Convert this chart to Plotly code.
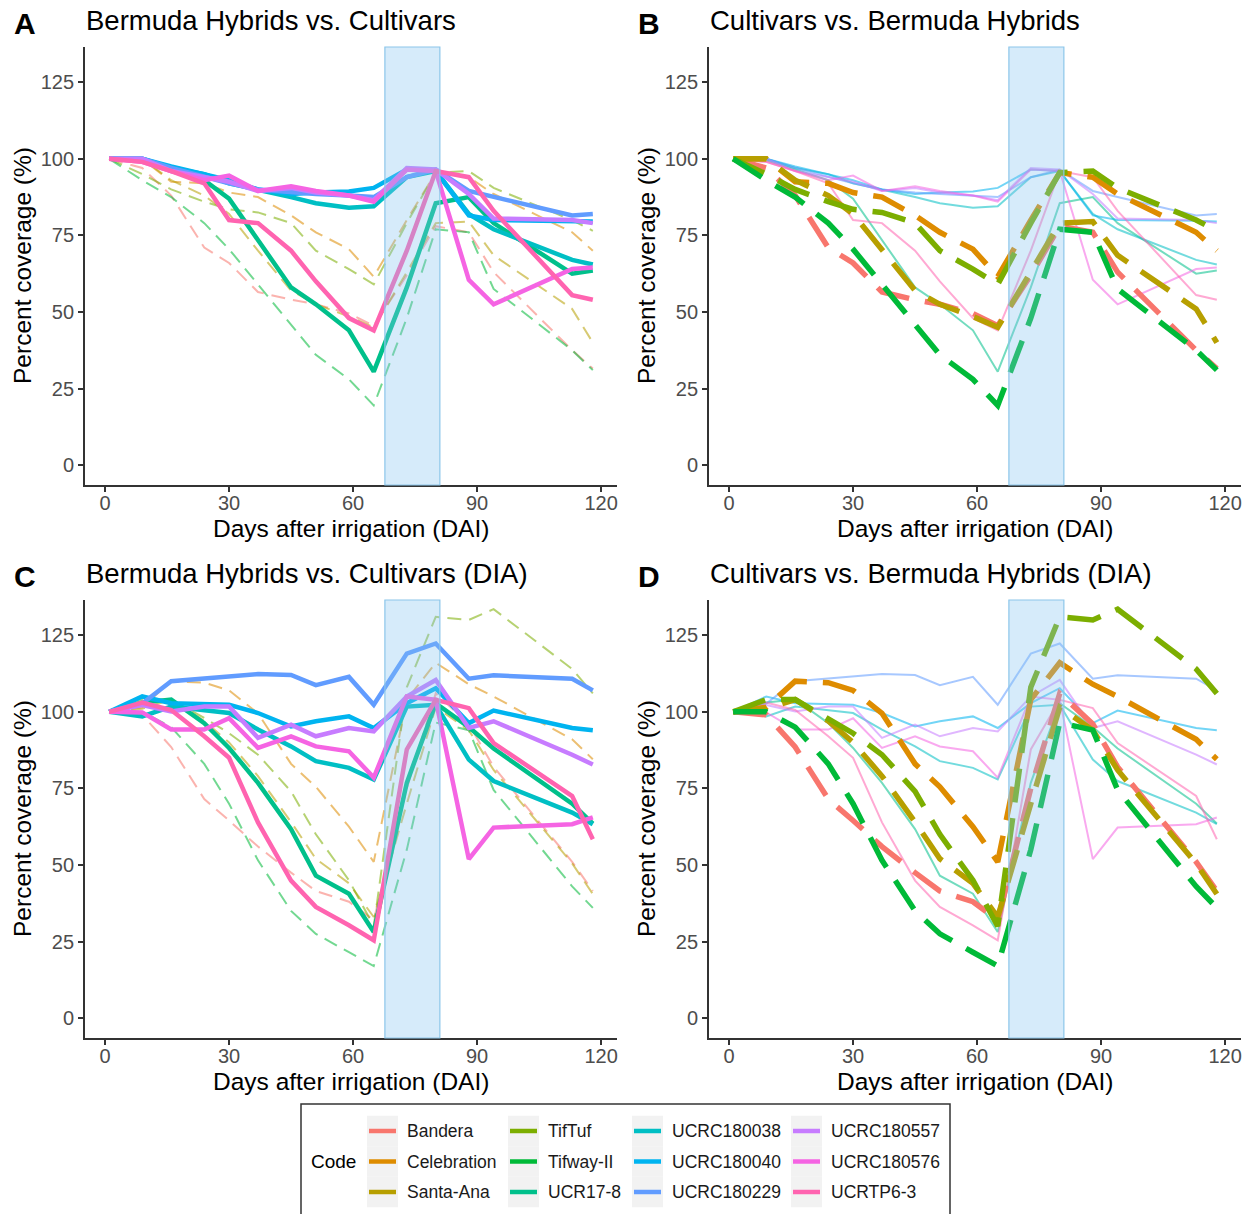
import plotly.graph_objects as go

# ---------------- data ----------------
days = [1, 9, 16, 24, 30, 37, 45, 51, 59, 65, 73, 80, 88, 94, 113, 118]

codes = ["Bandera", "Celebration", "Santa-Ana", "TifTuf", "Tifway-II", "UCR17-8",
         "UCRC180038", "UCRC180040", "UCRC180229", "UCRC180557", "UCRC180576", "UCRTP6-3"]
cultivars = ["Bandera", "Celebration", "Santa-Ana", "TifTuf", "Tifway-II"]
hybrids = ["UCR17-8", "UCRC180038", "UCRC180040", "UCRC180229", "UCRC180557", "UCRC180576", "UCRTP6-3"]

# Percent coverage (panels A, B)
cov_bandera     = [100, 97, 88, 71, 66, 56.5, 54, 52.5, 49.5, 45.5, 62, 78, 76, 63, 37.5, 31.5]
cov_celebration = [100, 100, 92.5, 92, 89, 87.5, 81.5, 76, 70.5, 61.5, 80, 95.5, 94, 88.5, 76, 70]
cov_santaana    = [100, 100, 93, 88, 82, 70, 57, 52.5, 48.5, 45, 63, 79, 79.5, 68.5, 51, 40]
cov_tiftuf      = [100, 95, 90, 86, 83.5, 82.5, 79, 70, 64, 59, 79, 95.5, 96, 90.5, 80, 76.5]
cov_tifway      = [100, 93, 87.5, 79, 70.5, 59, 45.5, 36, 28, 19.5, 48, 77, 76, 57.5, 37.5, 31]
cov_ucr178      = [100, 99.5, 96.5, 93, 87, 73.5, 58, 52.5, 44, 30.5, 58, 85.5, 87.5, 79, 62.5, 63.5]
cov_ucrc038     = [100, 100, 97, 95, 92, 90, 87.5, 85.5, 84, 84.5, 94, 96, 82, 77, 67, 65.5]
cov_ucrc040     = [100, 100, 97.5, 95, 93, 90, 88.5, 89, 89.3, 90.5, 96.5, 96, 81.5, 80, 79.8, 79.5]
cov_ucrc229     = [100, 100, 97, 94, 92, 90, 89, 88.5, 88, 87.5, 94, 96.5, 89.5, 87.5, 81.5, 82]
cov_ucrc557     = [100, 100, 96, 94, 92.5, 89.5, 90.5, 89, 88, 86.5, 97, 96.5, 88.5, 80.5, 80, 79]
cov_ucrc576     = [100, 99, 96, 93, 94.5, 89.5, 91, 89.5, 88, 86, 96.5, 96, 60.5, 52.5, 64, 64.5]
cov_ucrtp63     = [100, 99, 96, 92, 80, 79, 70, 60, 48, 44, 70, 96, 94, 83, 55.5, 54]

# Percent coverage, DIA (panels C, D)
dia_bandera     = [100, 99, 88.5, 71.5, 64.5, 56, 47.5, 41.5, 38, 32, 75, 106, 96, 82, 51, 41.5]
dia_celebration = [100, 101.5, 110, 109.5, 107, 99.5, 83, 75.5, 62.5, 51, 104, 116, 109, 105, 91, 84.5]
dia_santaana    = [100, 101, 104, 97, 90, 79, 64, 52, 44, 33, 70, 101.5, 94, 81, 50.5, 40.5]
dia_tiftuf      = [100, 104, 104, 98, 93, 86, 74, 60, 45, 30, 108, 131, 130, 133.5, 114, 106]
dia_tifway      = [100, 100, 95, 83, 70, 51.5, 35, 27.5, 21.5, 17, 55, 96.5, 94, 74.5, 43, 36]
dia_ucr178      = [100, 103, 104, 96.3, 88.2, 76.8, 61.7, 46.5, 40.6, 28.1, 76.8, 102.8, 95, 88, 70, 63.5]
dia_ucrc038     = [100, 98.5, 101.7, 100.5, 99.6, 94.2, 88.7, 83.9, 81.7, 77.9, 101.7, 102.3, 84.4, 77.4, 67.1, 63.3]
dia_ucrc040     = [100, 105, 102.8, 102.5, 102.3, 99.6, 95.2, 96.9, 98.5, 94.7, 102.8, 107.7, 96.3, 100.4, 94.7, 94]
dia_ucrc229     = [100, 102.7, 110, 110.8, 111.5, 112.3, 112, 108.7, 111.4, 102.3, 119, 122.3, 110.8, 111.9, 110.8, 107]
dia_ucrc557     = [100, 102.2, 100.1, 101.7, 101.7, 91.5, 95.8, 92, 94.7, 93.6, 105, 110.4, 94.7, 96.9, 86, 82.8]
dia_ucrc576     = [100, 99.8, 94.2, 94.2, 97.9, 88.2, 92, 88.7, 87.1, 78.5, 105, 103.9, 51.9, 62.2, 63.3, 65.5]
dia_ucrtp63     = [100, 103, 100.6, 92, 85, 63.9, 44.9, 36.3, 30.3, 25.4, 87.7, 103.9, 101.2, 89.8, 72.5, 58.4]

coverage = dict(zip(codes, [cov_bandera, cov_celebration, cov_santaana, cov_tiftuf, cov_tifway,
                            cov_ucr178, cov_ucrc038, cov_ucrc040, cov_ucrc229, cov_ucrc557,
                            cov_ucrc576, cov_ucrtp63]))
coverage_dia = dict(zip(codes, [dia_bandera, dia_celebration, dia_santaana, dia_tiftuf, dia_tifway,
                                dia_ucr178, dia_ucrc038, dia_ucrc040, dia_ucrc229, dia_ucrc557,
                                dia_ucrc576, dia_ucrtp63]))

colors = ["#F8766D", "#DE8C00", "#B79F00", "#7CAE00", "#00BA38", "#00C08B",
          "#00BFC4", "#00B4F0", "#619CFF", "#C77CFF", "#F564E3", "#FF64B0"]
color_of = dict(zip(codes, colors))

x_ticks = [0, 30, 60, 90, 120]
y_ticks = [0, 25, 50, 75, 100, 125]
irrigation_window = (67.7, 81.0)

titles = ["Bermuda Hybrids vs. Cultivars", "Cultivars vs. Bermuda Hybrids",
          "Bermuda Hybrids vs. Cultivars (DIA)", "Cultivars vs. Bermuda Hybrids (DIA)"]
letters = ["A", "B", "C", "D"]
x_title = "Days after irrigation (DAI)"
y_title = "Percent coverage (%)"

# ---------------- layout helpers ----------------
W, H = 1251, 1214
FONT = "Liberation Sans, Arial, Helvetica, sans-serif"


def fx(px):
    return px / W


def fy(py):
    return 1 - py / H


panels = [
    dict(data=coverage, focus="hybrids", xd=(85, 617), yd=(47, 485), tx=84, lx=25, ytx=22),
    dict(data=coverage, focus="cultivars", xd=(709, 1241), yd=(47, 485), tx=708, lx=649, ytx=646),
    dict(data=coverage_dia, focus="hybrids", xd=(85, 617), yd=(600, 1038), tx=84, lx=25, ytx=22),
    dict(data=coverage_dia, focus="cultivars", xd=(709, 1241), yd=(600, 1038), tx=708, lx=649, ytx=646),
]

fig = go.Figure()
layout = dict(width=W, height=H, margin=dict(l=0, r=0, t=0, b=0),
              paper_bgcolor="white", plot_bgcolor="white", showlegend=False,
              font=dict(family=FONT, color="black"))
shapes = []
annotations = []

for i, p in enumerate(panels):
    n = i + 1
    xa = "x" if n == 1 else f"x{n}"
    ya = "y" if n == 1 else f"y{n}"
    data = p["data"]
    # thin (background) group first, then emphasised group
    if p["focus"] == "hybrids":
        thin, thick = cultivars, hybrids
        thin_style = dict(width=2, dash="14px,8px")
        thick_style = dict(width=4.5, dash="solid")
    else:
        thin, thick = hybrids, cultivars
        thin_style = dict(width=2, dash="solid")
        thick_style = dict(width=5.5, dash="34px,16px")
    for c in thin:
        fig.add_trace(go.Scatter(x=days, y=data[c], mode="lines", xaxis=xa, yaxis=ya,
                                 line=dict(color=color_of[c], **thin_style), opacity=0.55,
                                 hoverinfo="skip", showlegend=False))
    for c in thick:
        fig.add_trace(go.Scatter(x=days, y=data[c], mode="lines", xaxis=xa, yaxis=ya,
                                 line=dict(color=color_of[c], **thick_style),
                                 hoverinfo="skip", showlegend=False))

    key = "" if n == 1 else str(n)
    layout["xaxis" + key] = dict(
        domain=[fx(p["xd"][0]), fx(p["xd"][1])], anchor=ya, range=[-4.85, 123.85],
        tickvals=x_ticks, ticks="outside", ticklen=5, tickwidth=1.5, tickcolor="#333333",
        showline=True, linecolor="#333333", linewidth=1.8, showgrid=False, zeroline=False,
        tickfont=dict(size=20, color="#4D4D4D", family=FONT), ticklabelstandoff=-6,
        automargin=False)
    layout["yaxis" + key] = dict(
        domain=[fy(p["yd"][1]), fy(p["yd"][0])], anchor=xa, range=[-6.5, 136.5],
        tickvals=y_ticks, ticks="outside", ticklen=5, tickwidth=1.5, tickcolor="#333333",
        showline=True, linecolor="#333333", linewidth=1.8, showgrid=False, zeroline=False,
        tickfont=dict(size=20, color="#4D4D4D", family=FONT),
        automargin=False)

    # axis titles
    annotations.append(dict(text=x_title, xref="paper", yref="paper",
                            x=fx((p["xd"][0] + p["xd"][1]) / 2), y=fy(p["yd"][1] + 43),
                            xanchor="center", yanchor="middle", showarrow=False,
                            font=dict(size=24.5, color="black", family=FONT)))
    annotations.append(dict(text=y_title, xref="paper", yref="paper", textangle=-90,
                            x=fx(p["ytx"]), y=fy((p["yd"][0] + p["yd"][1]) / 2),
                            xanchor="center", yanchor="middle", showarrow=False,
                            font=dict(size=24.5, color="black", family=FONT)))

    shapes.append(dict(type="rect", xref=xa, yref=f"{ya} domain",
                       x0=irrigation_window[0], x1=irrigation_window[1], y0=0, y1=1,
                       fillcolor="rgba(131,194,240,0.33)", line=dict(color="#8CC6EA", width=1.2),
                       layer="above"))
    ty = p["yd"][0] - 27
    annotations.append(dict(text=titles[i], xref="paper", yref="paper", x=fx(p["tx"]), y=fy(ty),
                            xanchor="left", yanchor="middle", showarrow=False,
                            font=dict(size=27.5, color="black", family=FONT)))
    annotations.append(dict(text=f"<b>{letters[i]}</b>", xref="paper", yref="paper", x=fx(p["lx"]),
                            y=fy(ty + 3), xanchor="center", yanchor="middle", showarrow=False,
                            font=dict(size=30, color="black", family=FONT)))

# ---------------- legend (drawn) ----------------
shapes.append(dict(type="rect", xref="paper", yref="paper", x0=fx(301), x1=fx(950),
                   y0=fy(1218), y1=fy(1104), line=dict(color="#333333", width=1.5),
                   fillcolor="rgba(0,0,0,0)", layer="above"))
annotations.append(dict(text="Code", xref="paper", yref="paper", x=fx(309), y=fy(1161),
                        xanchor="left", yanchor="middle", showarrow=False,
                        font=dict(size=19, color="black", family=FONT)))
col_key_x = [367, 508, 632, 791]
row_y = [1131, 1161.5, 1192]
key_w, key_h = 31, 30.5
for idx, c in enumerate(codes):
    col, row = idx // 3, idx % 3
    kx = col_key_x[col]
    ky = row_y[row]
    shapes.append(dict(type="rect", xref="paper", yref="paper", x0=fx(kx), x1=fx(kx + key_w),
                       y0=fy(ky + key_h / 2), y1=fy(ky - key_h / 2),
                       fillcolor="#F2F2F2", line=dict(width=0), layer="above"))
    shapes.append(dict(type="line", xref="paper", yref="paper", x0=fx(kx + 2), x1=fx(kx + key_w - 2),
                       y0=fy(ky), y1=fy(ky), line=dict(color=color_of[c], width=4.5), layer="above"))
    annotations.append(dict(text=c, xref="paper", yref="paper", x=fx(kx + key_w + 7), y=fy(ky),
                            xanchor="left", yanchor="middle", showarrow=False,
                            font=dict(size=17.5, color="#1A1A1A", family=FONT)))

layout["shapes"] = shapes
layout["annotations"] = annotations
fig.update_layout(**layout)
fig.write_html("out.html", config={"displayModeBar": False},
               post_script="document.body.style.margin='0px';")
